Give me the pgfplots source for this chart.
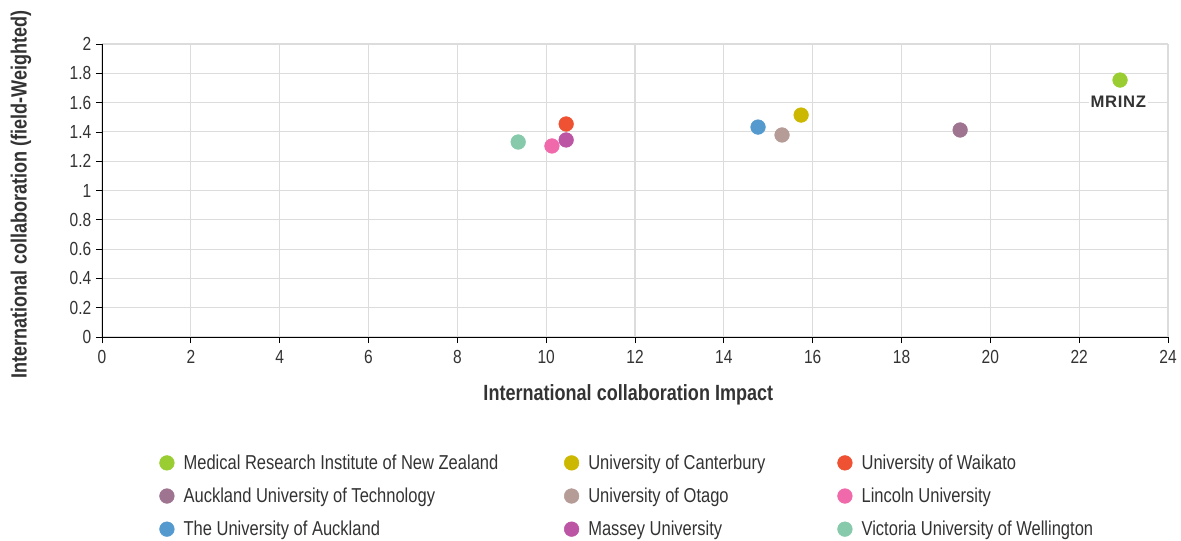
\documentclass[border=0pt]{standalone}
\usepackage{pgfplots}
\pgfplotsset{compat=1.18}
\usepackage{fontspec}
\setmainfont{Liberation Sans}[FakeStretch=0.82]
\definecolor{cMR}{HTML}{9ACD32}
\definecolor{cCA}{HTML}{CCB800}
\definecolor{cWA}{HTML}{EE5233}
\definecolor{cAU}{HTML}{9E7490}
\definecolor{cOT}{HTML}{B59C96}
\definecolor{cLI}{HTML}{F06AAB}
\definecolor{cUA}{HTML}{559ACF}
\definecolor{cMA}{HTML}{BC55A4}
\definecolor{cVI}{HTML}{86CAAB}
\definecolor{txt}{HTML}{333333}
\definecolor{gridc}{HTML}{DCDCDC}
\begin{document}
\begin{tikzpicture}
\useasboundingbox (-76.5pt,-152.25pt) rectangle (809.25pt,252.75pt);
\begin{axis}[
  at={(0,0)}, anchor=south west,
  scale only axis, width=799.5pt, height=219.75pt,
  xmin=0, xmax=24, ymin=0, ymax=2,
  xtick={0,2,4,6,8,10,12,14,16,18,20,22,24},
  ytick={0,0.2,0.4,0.6,0.8,1,1.2,1.4,1.6,1.8,2},
  axis x line*=bottom, axis y line*=left,
  axis line style={black, -},
  tick align=outside, major tick length=4.5pt,
  tick style={black, line width=0.6pt},
  grid=major, major grid style={gridc, line width=0.8pt},
  /pgf/number format/assume math mode=true,
  ticklabel style={font=\fontsize{14.2}{16}\selectfont, text=txt},
  xticklabel style={yshift=-2pt},
  label style={font=\fontsize{16.5}{19}\selectfont\bfseries, text=txt},
  xlabel={International collaboration Impact},
  ylabel={International collaboration (field-Weighted)},
  xlabel style={yshift=-9pt, xshift=-5pt},
  ylabel style={yshift=22pt, xshift=-3pt},
  legend columns=3,
  legend cell align=left,
  legend image code/.code={\draw[#1] plot coordinates {(0pt,0pt)};},
  legend style={at={(axis description cs:0,0)}, anchor=north west,
    xshift=40pt, yshift=-84pt,
    draw=none, fill=none, font=\fontsize{15.1}{18}\selectfont, text=txt,
    row sep=8.4pt,
    /tikz/every odd column/.append style={column sep=5pt}},
  every axis plot/.append style={only marks, mark=*, mark size=5.5pt},
]
\addplot[cMR, mark options={fill=cMR, draw=cMR}] coordinates {(22.92,1.754)};
\addlegendentry{\makebox[283.5pt][l]{Medical Research Institute of New Zealand}}
\addplot[cCA, mark options={fill=cCA, draw=cCA}] coordinates {(15.74,1.515)};
\addlegendentry{\makebox[185pt][l]{University of Canterbury}}
\addplot[cWA, mark options={fill=cWA, draw=cWA}] coordinates {(10.45,1.454)};
\addlegendentry{University of Waikato}
\addplot[cAU, mark options={fill=cAU, draw=cAU}] coordinates {(19.32,1.413)};
\addlegendentry{Auckland University of Technology}
\addplot[cOT, mark options={fill=cOT, draw=cOT}] coordinates {(15.31,1.379)};
\addlegendentry{University of Otago}
\addplot[cLI, mark options={fill=cLI, draw=cLI}] coordinates {(10.13,1.304)};
\addlegendentry{Lincoln University}
\addplot[cUA, mark options={fill=cUA, draw=cUA}] coordinates {(14.77,1.433)};
\addlegendentry{The University of Auckland}
\addplot[cMA, mark options={fill=cMA, draw=cMA}] coordinates {(10.45,1.345)};
\addlegendentry{Massey University}
\addplot[cVI, mark options={fill=cVI, draw=cVI}] coordinates {(9.37,1.331)};
\addlegendentry{Victoria University of Wellington}
\node[fill=white, inner sep=1.5pt, text=txt, font=\fontsize{12.5}{14}\selectfont\bfseries] at (axis cs:22.88,1.604) {\addfontfeature{FakeStretch=1.0, LetterSpace=4}MRINZ};
\end{axis}
\end{tikzpicture}
\end{document}
